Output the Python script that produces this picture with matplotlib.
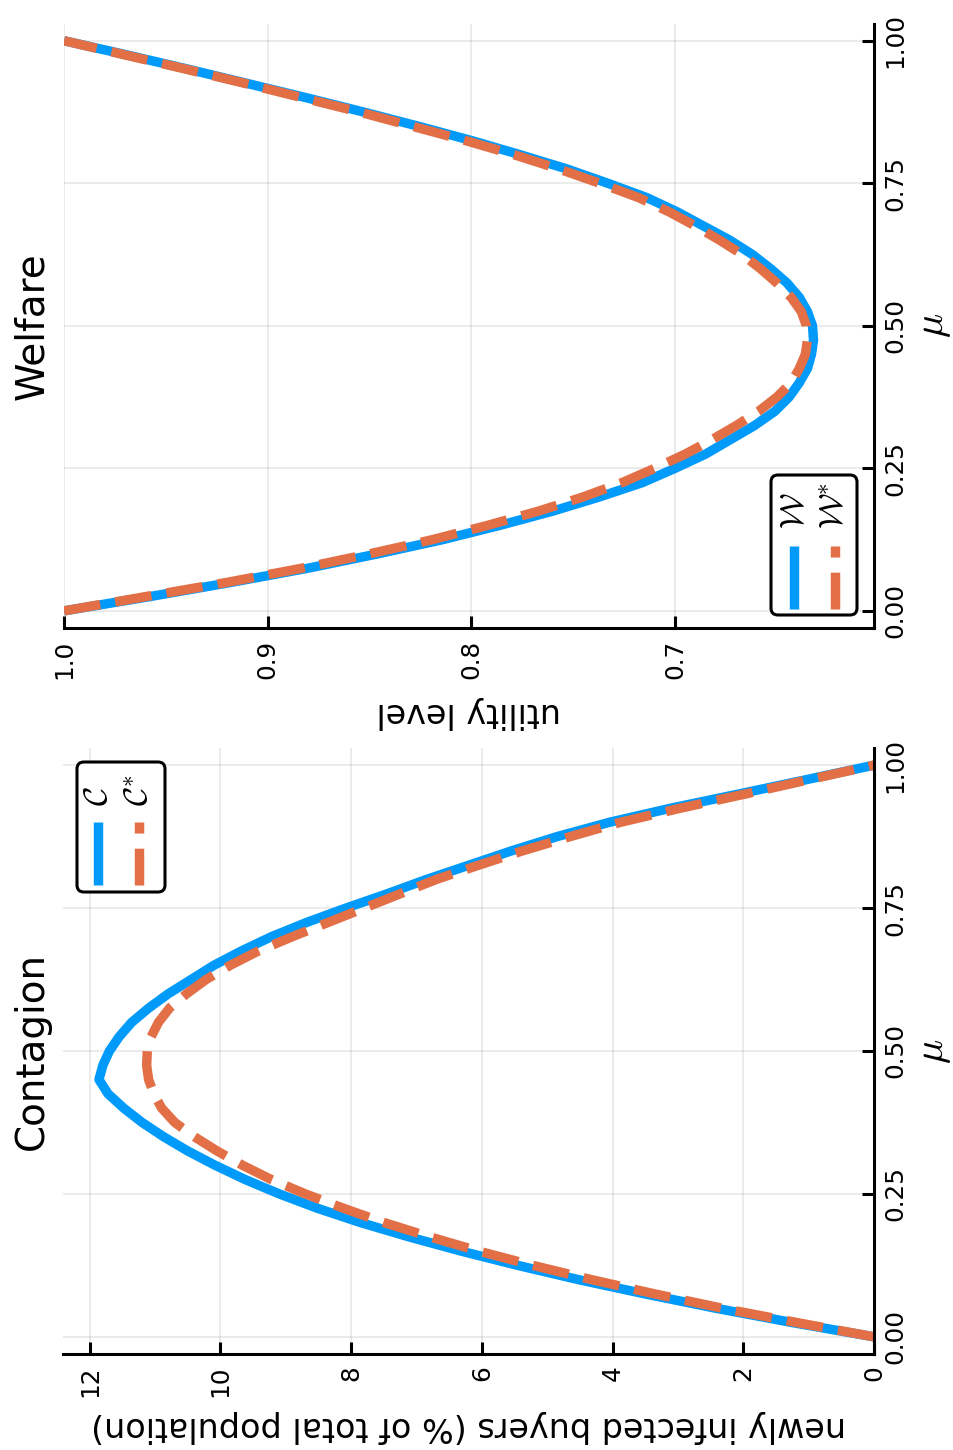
import matplotlib
matplotlib.use("Agg")
import matplotlib.pyplot as plt
from matplotlib.lines import Line2D
from matplotlib.patches import FancyBboxPatch

plt.rcParams["font.family"] = ["DejaVu Sans"]
plt.rcParams["mathtext.fontset"] = "cm"

# share of buyers mu
mu = [0.000, 0.025, 0.050, 0.075, 0.100, 0.125, 0.150, 0.175, 0.200, 0.225,
      0.250, 0.275, 0.300, 0.325, 0.350, 0.375, 0.400, 0.425, 0.450, 0.475,
      0.500, 0.525, 0.550, 0.575, 0.600, 0.625, 0.650, 0.675, 0.700, 0.725,
      0.750, 0.775, 0.800, 0.825, 0.850, 0.875, 0.900, 0.925, 0.950, 0.975,
      1.000]

# newly infected buyers (% of total population)
contagion = [0.00, 1.25, 2.42, 3.50, 4.52, 5.45, 6.32, 7.12, 7.86, 8.52,
             9.10, 9.62, 10.08, 10.50, 10.87, 11.20, 11.48, 11.72, 11.86, 11.80,
             11.70, 11.55, 11.36, 11.10, 10.80, 10.45, 10.10, 9.68, 9.22, 8.68,
             8.08, 7.45, 6.85, 6.20, 5.55, 4.85, 4.05, 3.10, 2.05, 1.02,
             0.00]
contagion_opt = [0.00, 1.18, 2.32, 3.35, 4.32, 5.22, 6.05, 6.80, 7.50, 8.12,
                 8.70, 9.22, 9.66, 10.05, 10.40, 10.70, 10.90, 11.02, 11.10, 11.13,
                 11.12, 11.06, 10.95, 10.78, 10.52, 10.22, 9.85, 9.42, 8.90, 8.35,
                 7.80, 7.25, 6.70, 6.05, 5.38, 4.65, 3.88, 2.95, 1.95, 0.98,
                 0.00]

# utility level
welfare = [1.000, 0.958, 0.918, 0.880, 0.846, 0.814, 0.786, 0.760, 0.737, 0.716,
           0.700, 0.685, 0.673, 0.661, 0.651, 0.644, 0.639, 0.635, 0.633, 0.632,
           0.6325, 0.635, 0.639, 0.645, 0.653, 0.662, 0.673, 0.686, 0.699, 0.714,
           0.733, 0.753, 0.776, 0.800, 0.826, 0.853, 0.881, 0.910, 0.939, 0.969,
           1.000]
welfare_opt = [1.000, 0.960, 0.920, 0.883, 0.850, 0.819, 0.792, 0.767, 0.745, 0.726,
               0.710, 0.695, 0.682, 0.670, 0.659, 0.650, 0.643, 0.639, 0.636, 0.635,
               0.6355, 0.638, 0.643, 0.650, 0.658, 0.667, 0.678, 0.690, 0.703, 0.718,
               0.737, 0.757, 0.779, 0.803, 0.829, 0.855, 0.883, 0.911, 0.940, 0.970,
               1.000]

mu_ticks = [0.0, 0.25, 0.5, 0.75, 1.0]
mu_ticklabels = ["0.00", "0.25", "0.50", "0.75", "1.00"]
contagion_ticks = [0, 2, 4, 6, 8, 10, 12]
welfare_ticks = [0.7, 0.8, 0.9, 1.0]
welfare_ticklabels = ["0.7", "0.8", "0.9", "1.0"]

BLUE = "#009AFA"
ORANGE = "#E36F47"
W, H, DPI = 954, 1450, 100
LW = 6.8
DASH = (0, (3.9, 1.6))

fig = plt.figure(figsize=(W / DPI, H / DPI), dpi=DPI)
fig.patch.set_facecolor("white")


def axes_px(left, top, right, bottom):
    return [left / W, 1 - bottom / H, (right - left) / W, (bottom - top) / H]


ax_w = fig.add_axes(axes_px(64, 23.6, 874, 628))
ax_c = fig.add_axes(axes_px(63, 748, 874, 1354))


def style(ax, xlim, xticks, xticklabels, px_left, px_right):
    ax.set_ylim(-0.03, 1.03)
    ax.set_xlim(*xlim)
    ax.set_yticks(mu_ticks)
    ax.set_yticklabels(mu_ticklabels, rotation=90, va="center")
    ax.set_xticks(xticks)
    ax.set_xticklabels(xticklabels, rotation=90)
    ax.yaxis.tick_right()
    ax.grid(True, color="black", alpha=0.1, lw=1.1)
    ax.set_axisbelow(True)
    for s in ("left", "top"):
        ax.spines[s].set_visible(False)
    for s in ("bottom", "right"):
        ax.spines[s].set_linewidth(2.2)
    ax.tick_params(axis="both", direction="in", length=8.6, width=2.2,
                   labelsize=17.8, colors="black")
    ax.tick_params(axis="x", pad=8.4)
    ax.tick_params(axis="y", pad=6.5)
    wpx = px_right - px_left
    ax.text((933 - px_left) / wpx, 0.5, r"$\mu$", rotation=90, fontsize=29,
            ha="center", va="center", transform=ax.transAxes)


style(ax_w, (1.0, 0.6023), welfare_ticks, welfare_ticklabels, 64, 874)
style(ax_c, (12.41, 0.0), contagion_ticks, [str(t) for t in contagion_ticks], 63, 874)

ax_w.plot(welfare, mu, color=BLUE, lw=LW, solid_capstyle="butt")
ax_w.plot(welfare_opt, mu, color=ORANGE, lw=LW, linestyle=DASH)
ax_c.plot(contagion, mu, color=BLUE, lw=LW, solid_capstyle="butt")
ax_c.plot(contagion_opt, mu, color=ORANGE, lw=LW, linestyle=DASH)

# panel titles, written along the mu axis
ax_w.text((43 - 64) / 810, 0.5, "Welfare", rotation=90, rotation_mode="anchor",
          ha="center", va="baseline", fontsize=28, transform=ax_w.transAxes)
ax_c.text((43 - 63) / 811, 0.5, "Contagion", rotation=90, rotation_mode="anchor",
          ha="center", va="baseline", fontsize=28, transform=ax_c.transAxes)

# value axis labels
ax_w.text(0.5, -(713 - 628) / 604.4, "utility level", rotation=180, fontsize=24,
          ha="center", va="center", transform=ax_w.transAxes)
ax_c.text(0.5, -(1426 - 1354) / 606, "newly infected buyers (% of total population)",
          rotation=180, fontsize=24, ha="center", va="center", transform=ax_c.transAxes)

# legends (pixel layout converted to inches)
inch = fig.dpi_scale_trans


def legend_box(x0, y0, x1, y1, entries):
    box = FancyBboxPatch((x0 / DPI, (H - y1) / DPI), (x1 - x0) / DPI, (y1 - y0) / DPI,
                         boxstyle="round,pad=0,rounding_size=0.07", transform=inch,
                         facecolor="white", edgecolor="black", lw=2.2, zorder=5)
    fig.add_artist(box)
    for x, ya, yb, color, ls, label, ly in entries:
        ln = Line2D([x / DPI, x / DPI], [(H - ya) / DPI, (H - yb) / DPI], transform=inch,
                    color=color, lw=LW, linestyle=ls, solid_capstyle="butt", zorder=6)
        fig.add_artist(ln)
        fig.text((x + 9) / DPI, (H - ly) / DPI, label, transform=inch, rotation=90,
                 rotation_mode="anchor", ha="left", va="baseline", fontsize=24, zorder=6)


legend_box(77, 762, 165, 892, [
    (98, 885, 822, BLUE, "-", r"$\mathcal{C}^{\ }$", 806),
    (139, 885, 822, ORANGE, DASH, r"$\mathcal{C}^{\ast}$", 806),
])
legend_box(771, 475, 857, 615, [
    (794, 609, 546, BLUE, "-", r"$\mathcal{W}$", 529),
    (835, 609, 546, ORANGE, DASH, r"$\mathcal{W}^{\ast}$", 529),
])

fig.savefig("out.png", dpi=DPI, facecolor="white")
